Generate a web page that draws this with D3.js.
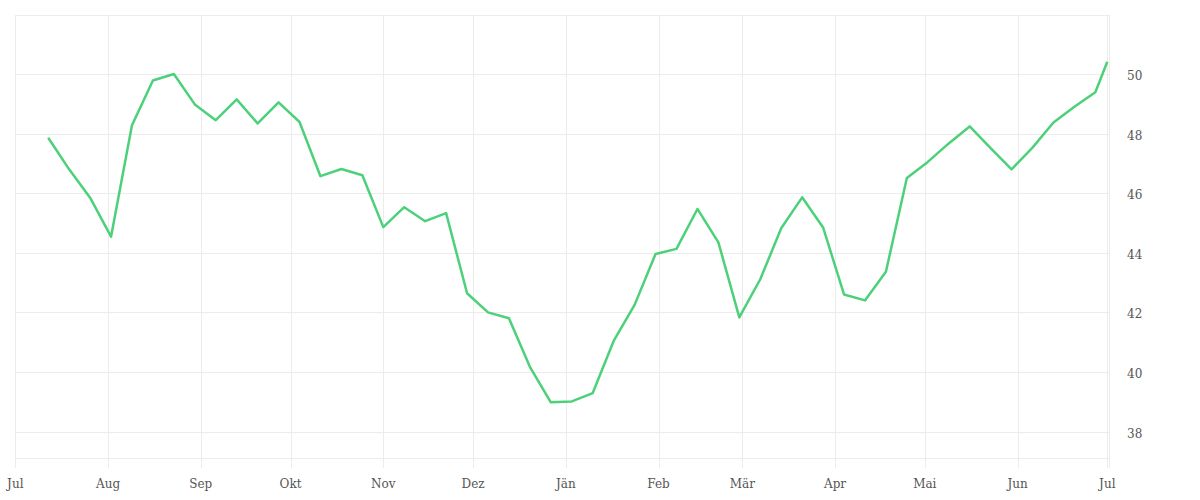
<!DOCTYPE html>
<html>
<head>
<meta charset="utf-8">
<script src="https://cdn.jsdelivr.net/npm/d3@7"></script>
<style>
  html, body { margin: 0; padding: 0; background: #fff; }
  svg { display: block; }
  text { font-family: "DejaVu Serif", serif; font-size: 12px; fill: #555; }
</style>
</head>
<body>
<svg id="chart" width="1200" height="500"></svg>
<script>
// ---- data ----
const startDate = "2022-07-12";   // first weekly observation
const lastDate = "2023-07-01";    // final (partial-week) observation
const values = [
  47.86, 46.80, 45.85, 44.54, 48.28, 49.78, 50.00, 48.98, 48.45, 49.15,
  48.34, 49.05, 48.39, 46.57, 46.81, 46.60, 44.86, 45.53, 45.06, 45.33,
  42.64, 42.00, 41.80, 40.17, 38.98, 39.01, 39.29, 41.04, 42.25, 43.96,
  44.13, 45.47, 44.35, 41.83, 43.11, 44.82, 45.86, 44.85, 42.60, 42.40,
  43.36, 46.51, 47.05, 47.67, 48.24, 47.51, 46.80, 47.53, 48.37, 48.90,
  49.39, 50.41
];
const monthLabels = ["Jul","Aug","Sep","Okt","Nov","Dez","Jän","Feb","Mär","Apr","Mai","Jun","Jul"];
const yTicks = [38, 40, 42, 44, 46, 48, 50];
const xDomain = ["2022-07-01", "2023-07-02"];

(function () {
  // ---- build dates ----
  const parse = d3.utcParse("%Y-%m-%d");
  const t0 = parse(startDate);
  const dates = values.map((v, i) => i < values.length - 1 ? d3.utcDay.offset(t0, 7 * i) : parse(lastDate));
  const data = values.map((v, i) => ({ date: dates[i], value: v }));

  // ---- layout ----
  const pLeft = 15.3, pRight = 1110.3, pTop = 15, pBottom = 458;
  const svg = d3.select("#chart");

  const x = d3.scaleUtc().domain(xDomain.map(parse)).range([pLeft, pRight]);
  const y = d3.scaleLinear().domain([38, 50]).range([431.5, 74]);

  const gridColor = "#ececec";
  const monthTicks = d3.utcMonth.range(parse("2022-07-01"), d3.utcDay.offset(parse("2023-07-01"), 1));

  // horizontal gridlines
  svg.append("g").selectAll("line").data(yTicks).join("line")
    .attr("x1", pLeft).attr("x2", pRight)
    .attr("y1", d => Math.round(y(d)) + 0.5).attr("y2", d => Math.round(y(d)) + 0.5)
    .attr("stroke", gridColor).attr("stroke-width", 1);

  // frame top / bottom
  svg.append("g").selectAll("line").data([pTop, pBottom]).join("line")
    .attr("x1", pLeft).attr("x2", pRight)
    .attr("y1", d => d + 0.5).attr("y2", d => d + 0.5)
    .attr("stroke", gridColor).attr("stroke-width", 1);

  // vertical gridlines (extend as ticks below)
  svg.append("g").selectAll("line").data(monthTicks).join("line")
    .attr("x1", d => Math.round(x(d)) + 0.5).attr("x2", d => Math.round(x(d)) + 0.5)
    .attr("y1", pTop).attr("y2", pBottom + 10)
    .attr("stroke", gridColor).attr("stroke-width", 1);

  // right border
  svg.append("line")
    .attr("x1", Math.round(pRight) - 0.5).attr("x2", Math.round(pRight) - 0.5)
    .attr("y1", pTop).attr("y2", pBottom + 10)
    .attr("stroke", gridColor).attr("stroke-width", 1);

  // x labels
  svg.append("g").selectAll("text").data(monthTicks).join("text")
    .attr("x", d => x(d)).attr("y", 488)
    .attr("text-anchor", "middle")
    .text((d, i) => monthLabels[i]);

  // y labels
  svg.append("g").selectAll("text").data(yTicks).join("text")
    .attr("x", 1127).attr("y", d => y(d) + 6)
    .attr("text-anchor", "start")
    .text(d => d);

  // line
  const line = d3.line().x(d => x(d.date)).y(d => y(d.value));
  svg.append("path").datum(data)
    .attr("d", line)
    .attr("fill", "none")
    .attr("stroke", "#4cd17a")
    .attr("stroke-width", 2.5)
    .attr("stroke-linejoin", "round");
})();
</script>
</body>
</html>
